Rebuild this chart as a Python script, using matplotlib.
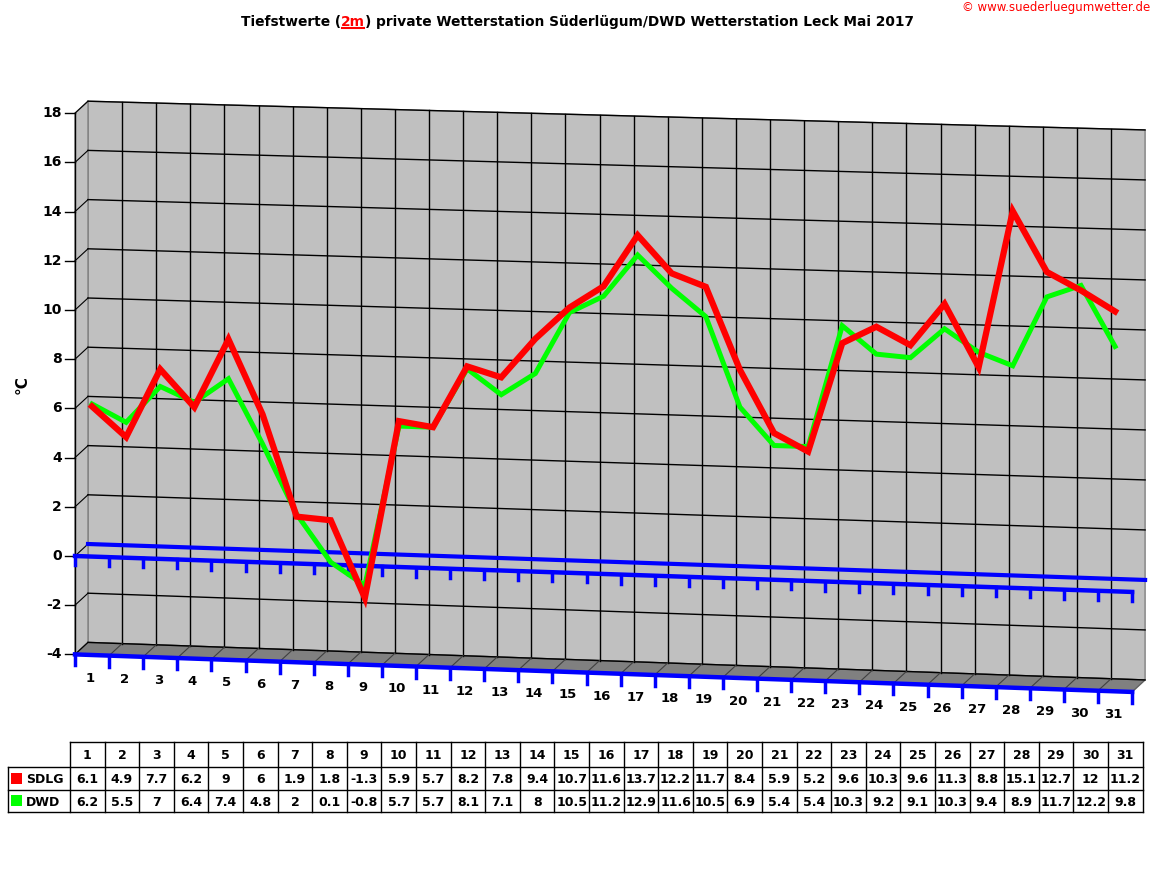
import matplotlib
matplotlib.use("Agg")
import matplotlib.pyplot as plt
from matplotlib.patches import Polygon, Rectangle
import numpy as np

days = list(range(1, 32))
sdlg = [6.1, 4.9, 7.7, 6.2, 9, 6, 1.9, 1.8, -1.3, 5.9, 5.7, 8.2, 7.8, 9.4, 10.7, 11.6,
        13.7, 12.2, 11.7, 8.4, 5.9, 5.2, 9.6, 10.3, 9.6, 11.3, 8.8, 15.1, 12.7, 12, 11.2]
dwd = [6.2, 5.5, 7, 6.4, 7.4, 4.8, 2, 0.1, -0.8, 5.7, 5.7, 8.1, 7.1, 8, 10.5, 11.2,
       12.9, 11.6, 10.5, 6.9, 5.4, 5.4, 10.3, 9.2, 9.1, 10.3, 9.4, 8.9, 11.7, 12.2, 9.8]
y_ticks = [18, 16, 14, 12, 10, 8, 6, 4, 2, 0, -2, -4]

# pseudo 3D geometry in pixels
X0, DX = 75.0, 34.1          # front left edge, width of one day
DEPTH_X, DEPTH_Y = 13.0, -12.0
SLOPE = 0.034
Y0 = 556.0                   # pixel of 0 at front left
K_L, K_R = 24.6, 25.0        # pixels per degree, left and right


def front(x, v):
    k = K_L + (K_R - K_L) * (x - X0) / (DX * 31)
    return Y0 - k * v + SLOPE * (x - X0)


def back(x, v):
    return front(x - DEPTH_X, v) + DEPTH_Y


def day_x(d):
    return X0 + DX * (d - 0.5)


fig = plt.figure(figsize=(11.52, 8.82), dpi=100)
ax = fig.add_axes([0, 0, 1, 1])
ax.set_xlim(0, 1152)
ax.set_ylim(882, 0)
ax.axis("off")

xr = X0 + DX * 31
bx0, bx1 = X0 + DEPTH_X, xr + DEPTH_X
# back wall
ax.add_patch(Polygon([(bx0, back(bx0, 18)), (bx1, back(bx1, 18)),
                      (bx1, back(bx1, -4)), (bx0, back(bx0, -4))],
                     closed=True, fc="#c0c0c0", ec="#808080", lw=1, zorder=1))
# left wall
ax.add_patch(Polygon([(X0, front(X0, 18)), (bx0, back(bx0, 18)),
                      (bx0, back(bx0, -4)), (X0, front(X0, -4))],
                     closed=True, fc="#c0c0c0", ec="#808080", lw=1, zorder=1))
# floor
ax.add_patch(Polygon([(X0, front(X0, -4)), (xr, front(xr, -4)),
                      (bx1, back(bx1, -4)), (bx0, back(bx0, -4))],
                     closed=True, fc="#808080", ec="#606060", lw=1, zorder=2))

# grid
for v in y_ticks:
    ax.plot([bx0, bx1], [back(bx0, v), back(bx1, v)], color="black", lw=1, zorder=2)
    ax.plot([X0, bx0], [front(X0, v), back(bx0, v)], color="black", lw=0.8, zorder=2)
    ax.plot([X0 - 10, X0], [front(X0, v), front(X0, v)], color="black", lw=1, zorder=2)
    ax.text(X0 - 13, front(X0, v), str(v), ha="right", va="center",
            fontsize=10, fontweight="bold", zorder=5)
for i in range(1, 31):
    xb = bx0 + DX * i
    ax.plot([xb, xb], [back(xb, 18), back(xb, -4)], color="black", lw=1, zorder=2)
    ax.plot([X0 + DX * i, xb], [front(X0 + DX * i, -4), back(xb, -4)], color="#404040", lw=0.8, zorder=3)
ax.plot([X0, X0], [front(X0, 18), front(X0, -4)], color="black", lw=1, zorder=2)

# blue zero lines and base line
ax.plot([bx0, bx1], [back(bx0, 0), back(bx1, 0)], color="#0000ff", lw=3, zorder=3)
for v, tick in [(0, 9), (-4, 11)]:
    ax.plot([X0, xr], [front(X0, v), front(xr, v)], color="#0000ff", lw=3.2, zorder=4)
    for i in range(32):
        xt = X0 + DX * i
        ax.plot([xt, xt], [front(xt, v), front(xt, v) + tick], color="#0000ff", lw=2.5, zorder=4)

for d in days:
    ax.text(day_x(d) - 2, front(day_x(d), -4) + 23, str(d), ha="center", va="center",
            fontsize=9.5, fontweight="bold", zorder=5)

xs = [day_x(d) for d in days]
ax.plot(xs, [front(x, v) for x, v in zip(xs, dwd)], color="#00ff00", lw=3.6,
        solid_joinstyle="miter", zorder=6)
ax.plot(xs, [front(x, v) for x, v in zip(xs, sdlg)], color="#ff0000", lw=4.5,
        solid_joinstyle="miter", zorder=7)

ax.text(22, 385, "°C", rotation=90, ha="center", va="center", fontsize=11, fontweight="bold")

# title
t1 = ax.text(241, 22, "Tiefstwerte (", ha="left", va="center", fontsize=9.9, fontweight="bold")
t2 = ax.annotate("2m", xy=(1, 0), xycoords=t1, va="bottom", ha="left", fontsize=9.9,
                 fontweight="bold", color="#ff0000")
ax.annotate(") private Wetterstation Süderlügum/DWD Wetterstation Leck Mai 2017", xy=(1, 0),
            xycoords=t2, va="bottom", ha="left", fontsize=9.9, fontweight="bold")
fig.canvas.draw()
bb = t2.get_window_extent()
ax.plot([bb.x0 + 1, bb.x1 - 1], [882 - bb.y0 - 1, 882 - bb.y0 - 1], color="#ff0000", lw=1.5)
ax.text(1150, 8, "© www.suederluegumwetter.de", ha="right", va="center",
        fontsize=8.5, color="#ff0000")

# table
cx0, cw = 70.0, 34.6
rows_y = [742, 767, 790, 812]
ax.plot([cx0, cx0 + cw * 31], [rows_y[0], rows_y[0]], color="black", lw=1)
for y in rows_y[1:]:
    ax.plot([8, cx0 + cw * 31], [y, y], color="black", lw=1)
ax.plot([8, 8], [rows_y[1], rows_y[3]], color="black", lw=1)
for i in range(32):
    ax.plot([cx0 + cw * i] * 2, [rows_y[0], rows_y[3]], color="black", lw=1)
for i, d in enumerate(days):
    xc = cx0 + cw * (i + 0.5)
    for j, txt in enumerate([d, sdlg[i], dwd[i]]):
        ax.text(xc, (rows_y[j] + rows_y[j + 1]) / 2 + 1, f"{txt:g}", ha="center", va="center",
                fontsize=9, fontweight="bold")
for j, (name, col) in enumerate([("SDLG", "#ff0000"), ("DWD", "#00ff00")]):
    yc = (rows_y[j + 1] + rows_y[j + 2]) / 2
    ax.add_patch(Rectangle((11, yc - 6), 11, 11, fc=col, ec="none"))
    ax.text(26, yc + 1, name, ha="left", va="center", fontsize=9, fontweight="bold")

fig.savefig("out.png", dpi=100)
